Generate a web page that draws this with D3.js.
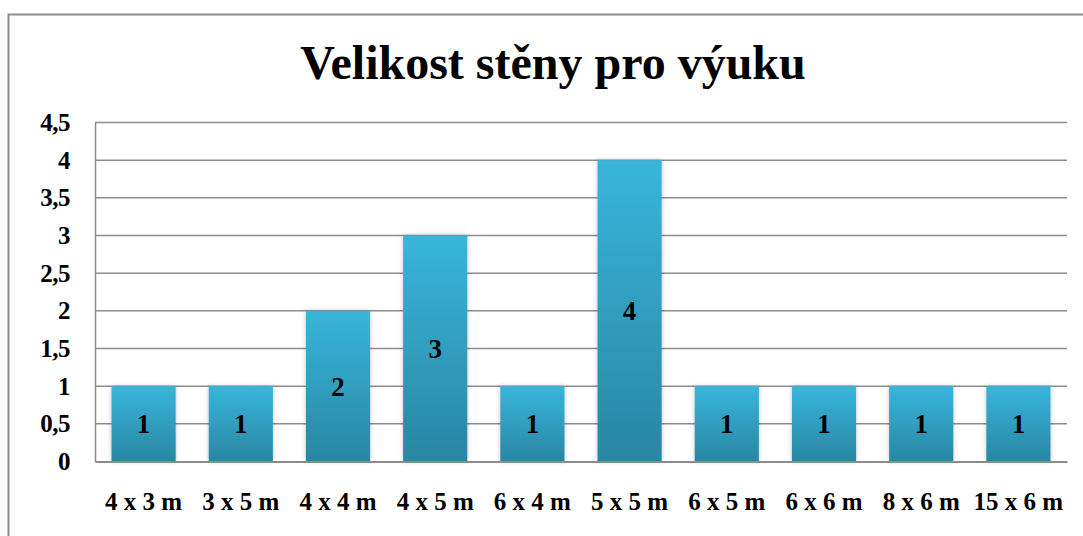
<!DOCTYPE html>
<html><head><meta charset="utf-8">
<script src="https://cdn.jsdelivr.net/npm/d3@7"></script>
<style>body{margin:0;background:#fff}svg{display:block}</style>
</head><body>
<svg id="chart" width="1083" height="536"></svg>
<script>
const categories = ["4 x 3 m","3 x 5 m","4 x 4 m","4 x 5 m","6 x 4 m","5 x 5 m","6 x 5 m","6 x 6 m","8 x 6 m","15 x 6 m"];
const values = [1,1,2,3,1,4,1,1,1,1];
const yTicks = [0,0.5,1,1.5,2,2.5,3,3.5,4,4.5];
const title = "Velikost stěny pro výuku";

const svg = d3.select("#chart");
const m = {left:95, right:1067, top:122.5, bottom:461.5};
const font = "'Liberation Serif','Times New Roman',serif";

// frame
svg.append("rect").attr("x",8.5).attr("y",14.5).attr("width",1100).attr("height",600)
  .attr("fill","#fff").attr("stroke","#8c8c8c").attr("stroke-width",2);

const defs = svg.append("defs");
const grad = defs.append("linearGradient").attr("id","barGrad").attr("x1",0).attr("y1",0).attr("x2",0).attr("y2",1);
grad.append("stop").attr("offset","0%").attr("stop-color","#38b5dc");
grad.append("stop").attr("offset","100%").attr("stop-color","#2986a2");
const f = defs.append("filter").attr("id","shadow").attr("x","-20%").attr("y","-10%").attr("width","140%").attr("height","120%");
f.append("feDropShadow").attr("dx",0).attr("dy",0).attr("stdDeviation",2).attr("flood-color","#000").attr("flood-opacity",0.25);

const x = d3.scaleBand().domain(categories).range([m.left,m.right]).paddingInner(0.34).paddingOuter(0.17);
const y = d3.scaleLinear().domain([0,4.5]).range([m.bottom,m.top]);

// gridlines
svg.append("g").selectAll("line").data(yTicks.filter(d=>d>0)).join("line")
  .attr("x1",m.left).attr("x2",m.right).attr("y1",d=>y(d)).attr("y2",d=>y(d))
  .attr("stroke","#8c8c8c").attr("stroke-width",1.5);

// y axis
const yAxis = d3.axisLeft(y).tickValues(yTicks).tickSize(0).tickPadding(25)
  .tickFormat(d=>String(d).replace(".",","));
const gy = svg.append("g").attr("transform",`translate(${m.left},0)`).call(yAxis);
gy.attr("font-family",null).attr("font-size",null);
gy.select(".domain").attr("stroke","#8c8c8c").attr("stroke-width",1.5);
gy.selectAll("text").style("font-family",font).style("font-weight","bold").style("font-size","25px")
  .style("letter-spacing","-0.5px").attr("fill","#000");

// bars
svg.append("g").selectAll("rect").data(values).join("rect")
  .attr("x",(d,i)=>x(categories[i])).attr("width",x.bandwidth())
  .attr("y",d=>y(d)).attr("height",d=>y(0)-y(d))
  .attr("fill","url(#barGrad)").attr("filter","url(#shadow)");

// x axis
const xAxis = d3.axisBottom(x).tickSize(0).tickPadding(31);
const gx = svg.append("g").attr("transform",`translate(0,${m.bottom})`).call(xAxis);
gx.attr("font-family",null).attr("font-size",null);
gx.select(".domain").attr("stroke","#8c8c8c").attr("stroke-width",2);
gx.selectAll("text").style("font-family",font).style("font-weight","bold").style("font-size","25px")
  .attr("fill","#000");

// data labels
svg.append("g").selectAll("text").data(values).join("text")
  .attr("x",(d,i)=>x(categories[i])+x.bandwidth()/2)
  .attr("y",d=>(y(d)+y(0))/2).attr("dy","0.35em")
  .attr("text-anchor","middle").style("font-family",font).style("font-weight","bold")
  .style("font-size","27px").attr("fill","#000").text(d=>d);

// title
svg.append("text").attr("x",553).attr("y",79).attr("text-anchor","middle")
  .style("font-family",font).style("font-weight","bold").style("font-size","48px").attr("fill","#000").text(title);
</script>
</body></html>
